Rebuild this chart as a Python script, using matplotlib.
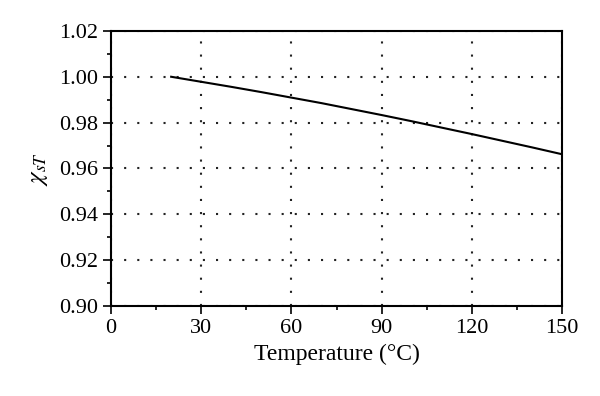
import matplotlib
matplotlib.use('Agg')
import matplotlib.pyplot as plt
from matplotlib.ticker import MultipleLocator

# temperature (C) vs chi_sT
temp = [20, 30, 40, 50, 60, 70, 80, 90, 100, 110, 120, 130, 140, 150]
chi = [1.000, 0.9978, 0.9956, 0.9933, 0.9909, 0.9885, 0.9859, 0.9833,
       0.9806, 0.9778, 0.9750, 0.9721, 0.9692, 0.9662]

plt.rcParams['font.family'] = ['Liberation Serif', 'DejaVu Serif']
plt.rcParams['mathtext.fontset'] = 'stix'

fig = plt.figure(figsize=(6, 3.96), dpi=100)
ax = fig.add_axes([0.185, 0.227, 0.752, 0.695])

ax.plot(temp, chi, color='black', lw=1.5)

ax.set_xlim(0, 150)
ax.set_ylim(0.90, 1.02)
ax.xaxis.set_major_locator(MultipleLocator(30))
ax.xaxis.set_minor_locator(MultipleLocator(15))
ax.yaxis.set_major_locator(MultipleLocator(0.02))
ax.yaxis.set_minor_locator(MultipleLocator(0.01))
ax.yaxis.set_major_formatter(plt.FormatStrFormatter('%.2f'))

ax.grid(True, which='major', color='#222222', linestyle=(0, (1, 5.3)), lw=1.5)
ax.tick_params(which='major', direction='out', length=6, width=1.2, labelsize=16, top=False, right=False)
ax.tick_params(which='minor', direction='out', length=3, width=1.2, top=False, right=False)
for s in ax.spines.values():
    s.set_linewidth(1.5)

ax.set_xlabel('Temperature (°C)', fontsize=17, labelpad=4)
ax.set_ylabel(r'$\chi_{sT}$', fontsize=18, labelpad=6)

fig.savefig('out.png', dpi=100)
